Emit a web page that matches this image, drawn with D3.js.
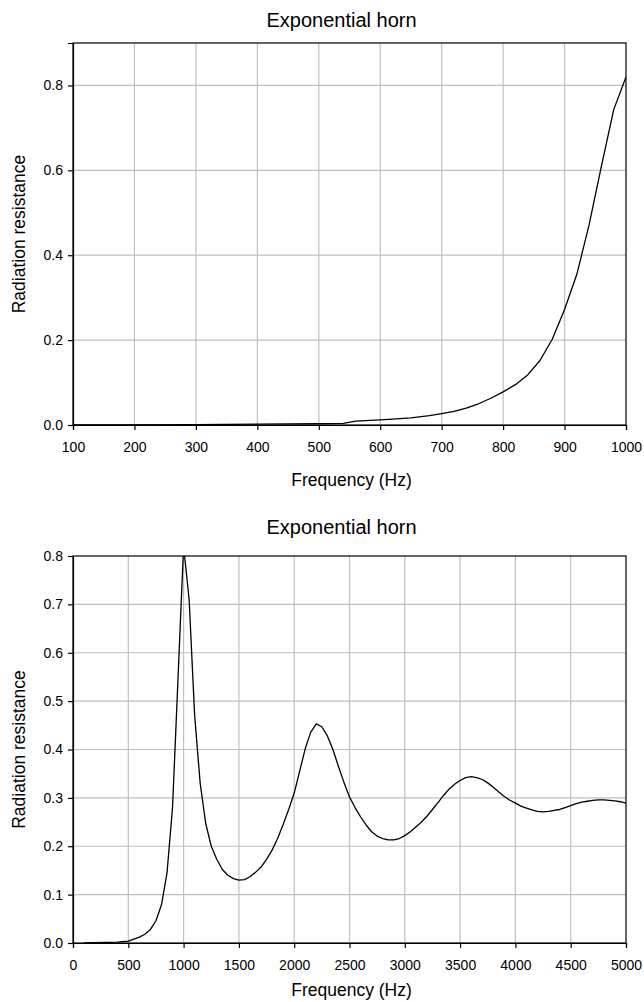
<!DOCTYPE html>
<html>
<head>
<meta charset="utf-8">
<script src="https://cdn.jsdelivr.net/npm/d3@7"></script>
<style>
  html, body { margin: 0; padding: 0; background: #fff; }
  svg { display: block; }
  text { font-family: "Liberation Sans", Arial, sans-serif; fill: #000; }
</style>
</head>
<body>
<svg id="chart" width="644" height="1002"></svg>
<script>
// Radiation resistance of an exponential horn, 100–1000 Hz (detail)
const detailFreq = [100, 200, 300, 400, 500, 540, 560, 600, 620, 650, 680, 700, 720, 740, 760, 780, 800,
  820, 840, 860, 880, 900, 920, 940, 960, 980, 1000];
const detailRes = [0.000, 0.0005, 0.001, 0.002, 0.003, 0.004, 0.009, 0.012, 0.014, 0.017, 0.022, 0.027, 0.032, 0.040, 0.050, 0.063, 0.078,
  0.095, 0.118, 0.152, 0.202, 0.272, 0.355, 0.472, 0.610, 0.743, 0.82];

// Radiation resistance of an exponential horn, 100–5000 Hz (full range)
const fullFreq = [100, 200, 300, 400, 500, 550, 600, 650, 700, 750, 800, 850, 900, 950, 1000,
  1050, 1100, 1150, 1200, 1250, 1300, 1350, 1400, 1450, 1500, 1550, 1600, 1650, 1700, 1750,
  1800, 1850, 1900, 1950, 2000, 2050, 2100, 2150, 2200, 2250, 2300, 2350, 2400, 2450, 2500,
  2550, 2600, 2650, 2700, 2750, 2800, 2850, 2900, 2950, 3000, 3050, 3100, 3150, 3200, 3250,
  3300, 3350, 3400, 3450, 3500, 3550, 3600, 3650, 3700, 3750, 3800, 3850, 3900, 3950, 4000,
  4050, 4100, 4150, 4200, 4250, 4300, 4350, 4400, 4450, 4500, 4550, 4600, 4650, 4700, 4750,
  4800, 4850, 4900, 4950, 5000];
const fullRes = [0.000, 0.0005, 0.001, 0.002, 0.004, 0.008, 0.012, 0.018, 0.028, 0.046, 0.079, 0.145, 0.28, 0.55, 0.82,
  0.71, 0.47, 0.33, 0.247, 0.200, 0.173, 0.152, 0.140, 0.133, 0.130, 0.131, 0.137, 0.146, 0.157, 0.173,
  0.192, 0.216, 0.245, 0.276, 0.310, 0.356, 0.402, 0.436, 0.453, 0.447, 0.428, 0.400, 0.365, 0.332, 0.302,
  0.280, 0.261, 0.244, 0.230, 0.221, 0.216, 0.213, 0.213, 0.216, 0.222, 0.230, 0.240, 0.250, 0.262, 0.276,
  0.290, 0.305, 0.318, 0.328, 0.336, 0.342, 0.344, 0.342, 0.338, 0.331, 0.322, 0.312, 0.303, 0.295, 0.289,
  0.283, 0.279, 0.275, 0.272, 0.271, 0.272, 0.274, 0.276, 0.280, 0.284, 0.288, 0.291, 0.293, 0.295, 0.296,
  0.296, 0.295, 0.294, 0.292, 0.289];

// Axis ticks
const detailXTicks = [100, 200, 300, 400, 500, 600, 700, 800, 900, 1000];
const detailYTicks = [0, 0.2, 0.4, 0.6, 0.8];
const fullXTicks = [0, 500, 1000, 1500, 2000, 2500, 3000, 3500, 4000, 4500, 5000];
const fullYTicks = [0, 0.1, 0.2, 0.3, 0.4, 0.5, 0.6, 0.7, 0.8];

const chartTitle = "Exponential horn";
const xTitle = "Frequency (Hz)";
const yTitle = "Radiation resistance";

const svg = d3.select("#chart");

function drawPanel(cfg) {
  const { id, left, top, width, height, xDomain, yDomain, xTicks, yTicks, freq, res, titleY, xTitleY } = cfg;
  const g = svg.append("g").attr("transform", `translate(${left},${top})`);
  const x = d3.scaleLinear().domain(xDomain).range([0, width]);
  const y = d3.scaleLinear().domain(yDomain).range([height, 0]);

  // grid
  const grid = g.append("g").attr("stroke", "#c0c0c0").attr("stroke-width", 1.2);
  grid.selectAll("line.v").data(xTicks.filter(t => t > xDomain[0] && t < xDomain[1]))
    .join("line").attr("class", "v")
    .attr("x1", d => x(d)).attr("x2", d => x(d)).attr("y1", 0).attr("y2", height);
  grid.selectAll("line.h").data(yTicks.filter(t => t > yDomain[0] && t < yDomain[1]))
    .join("line").attr("class", "h")
    .attr("y1", d => y(d)).attr("y2", d => y(d)).attr("x1", 0).attr("x2", width);

  // curve
  svg.append("clipPath").attr("id", id)
    .append("rect").attr("x", 0).attr("y", 0).attr("width", width).attr("height", height);
  const pts = freq.map((f, i) => [f, res[i]]);
  g.append("path")
    .datum(pts)
    .attr("clip-path", `url(#${id})`)
    .attr("fill", "none")
    .attr("stroke", "#000")
    .attr("stroke-width", 1.3)
    .attr("stroke-linejoin", "round")
    .attr("d", d3.line().x(d => x(d[0])).y(d => y(d[1])).curve(d3.curveLinear));

  // frame
  g.append("rect").attr("x", 0).attr("y", 0).attr("width", width).attr("height", height)
    .attr("fill", "none").attr("stroke", "#000").attr("stroke-width", 1.2);

  // axes
  const xAxis = g.append("g").attr("transform", `translate(0,${height})`)
    .call(d3.axisBottom(x).tickValues(xTicks).tickFormat(d3.format("d")).tickSize(5).tickPadding(12));
  const yAxis = g.append("g")
    .call(d3.axisLeft(y).tickValues(yTicks).tickFormat(d3.format(".1f")).tickSize(5).tickPadding(5));
  [xAxis, yAxis].forEach(a => {
    a.select(".domain").attr("stroke", "#000").attr("stroke-width", 1.2);
    a.selectAll(".tick line").attr("stroke", "#000").attr("stroke-width", 1.2);
    a.selectAll(".tick text").attr("font-size", 14).attr("font-family", "Liberation Sans, Arial, sans-serif").attr("fill", "#000");
  });

  // titles
  svg.append("text").attr("x", left + width / 2 - 8).attr("y", titleY)
    .attr("text-anchor", "middle").attr("font-size", 20).text(chartTitle);
  svg.append("text").attr("x", left + width / 2 + 2).attr("y", xTitleY)
    .attr("text-anchor", "middle").attr("font-size", 17.5).text(xTitle);
  svg.append("text")
    .attr("transform", `translate(25,${top + height / 2}) rotate(-90)`)
    .attr("text-anchor", "middle").attr("font-size", 17.5).text(yTitle);
}

drawPanel({
  id: "clip-detail", left: 73, top: 43, width: 553, height: 382,
  xDomain: [100, 1000], yDomain: [0, 0.9],
  xTicks: detailXTicks, yTicks: detailYTicks,
  freq: detailFreq, res: detailRes, titleY: 27, xTitleY: 486
});

drawPanel({
  id: "clip-full", left: 73, top: 556, width: 553, height: 387,
  xDomain: [0, 5000], yDomain: [0, 0.8],
  xTicks: fullXTicks, yTicks: fullYTicks,
  freq: fullFreq, res: fullRes, titleY: 534, xTitleY: 996
});
</script>
</body>
</html>
